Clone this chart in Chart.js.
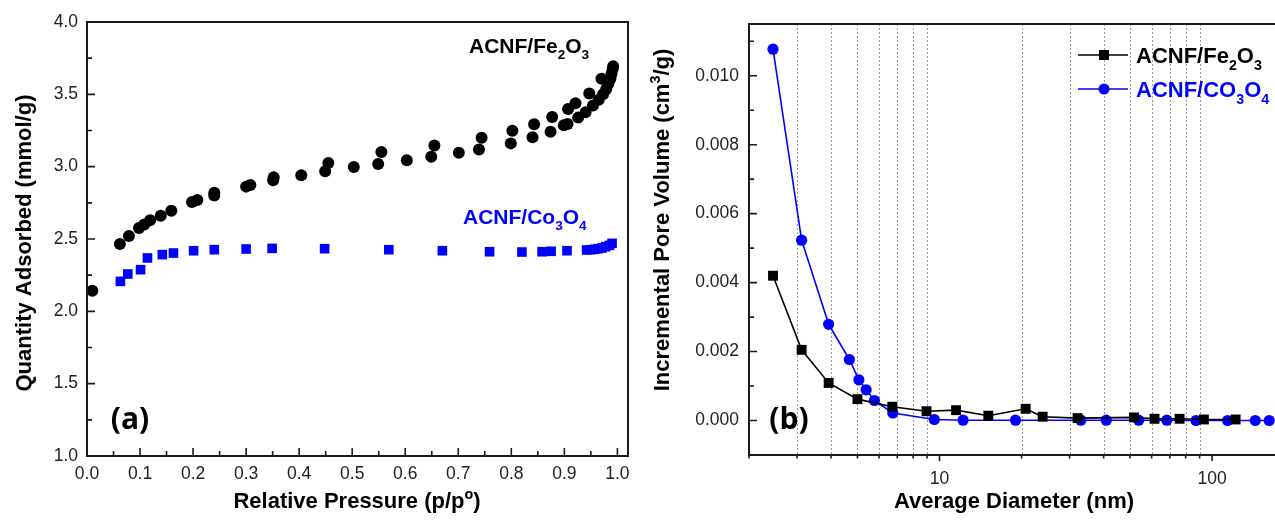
<!DOCTYPE html>
<html>
<head>
<meta charset="utf-8">
<script src="https://cdn.jsdelivr.net/npm/chart.js@4.4.1/dist/chart.umd.min.js"></script>
<style>
  html, body { margin: 0; padding: 0; background: #fff; overflow: hidden; }
  #wrap { position: relative; width: 1275px; height: 525px; overflow: hidden; }
  #isotherm { position: absolute; left: 0; top: 0; }
  #poreDist { position: absolute; left: 640px; top: 0; }
</style>
</head>
<body>
<div id="wrap">
  <canvas id="isotherm" width="640" height="525"></canvas>
  <canvas id="poreDist" width="648" height="525"></canvas>
</div>
<script>
// (a) N2 adsorption-desorption isotherms
const feP = [0.010, 0.062, 0.079, 0.098, 0.108, 0.119, 0.139, 0.159, 0.198, 0.208, 0.240, 0.240,
  0.300, 0.308, 0.351, 0.352, 0.404, 0.449, 0.455, 0.503, 0.549, 0.555, 0.603, 0.649, 0.655,
  0.701, 0.739, 0.744, 0.799, 0.802, 0.840, 0.843, 0.874, 0.877, 0.899, 0.906, 0.907, 0.921,
  0.926, 0.940, 0.947, 0.954, 0.965, 0.970, 0.973, 0.979, 0.983, 0.987, 0.989, 0.991, 0.992];
const feQ = [2.143, 2.465, 2.520, 2.576, 2.600, 2.630, 2.660, 2.696, 2.756, 2.770, 2.820, 2.800,
  2.862, 2.873, 2.906, 2.926, 2.940, 2.968, 3.025, 2.998, 3.018, 3.101, 3.044, 3.069, 3.147,
  3.097, 3.118, 3.200, 3.161, 3.249, 3.203, 3.293, 3.242, 3.343, 3.286, 3.295, 3.399, 3.438,
  3.339, 3.376, 3.505, 3.422, 3.463, 3.608, 3.500, 3.537, 3.574, 3.610, 3.643, 3.675, 3.694];
const coP = [0.063, 0.077, 0.101, 0.114, 0.142, 0.163, 0.201, 0.240, 0.300, 0.349, 0.448, 0.569,
  0.670, 0.759, 0.820, 0.858, 0.875, 0.905, 0.942, 0.950, 0.957, 0.964, 0.971, 0.978, 0.985, 0.990];
const coQ = [2.207, 2.258, 2.288, 2.369, 2.392, 2.403, 2.419, 2.426, 2.431, 2.435, 2.433, 2.426,
  2.419, 2.412, 2.410, 2.412, 2.415, 2.419, 2.424, 2.426, 2.429, 2.433, 2.438, 2.447, 2.456, 2.470];

const isoXTicks = [0.0, 0.1, 0.2, 0.3, 0.4, 0.5, 0.6, 0.7, 0.8, 0.9, 1.0];
const isoXMinor = [0.05, 0.15, 0.25, 0.35, 0.45, 0.55, 0.65, 0.75, 0.85, 0.95];
const isoYTicks = [1.0, 1.5, 2.0, 2.5, 3.0, 3.5, 4.0];
const isoYMinor = [1.25, 1.75, 2.25, 2.75, 3.25, 3.75];

// (b) BJH pore size distribution
const feD = [2.45, 3.12, 3.92, 5.00, 6.71, 8.96, 11.5, 15.1, 20.7, 23.9, 32.1, 51.7, 61.5, 76.0, 93.3, 122];
const feV = [0.00420, 0.00205, 0.00109, 0.00062, 0.00040, 0.00027, 0.00030, 0.00014, 0.00034,
  0.00011, 0.00007, 0.00009, 0.00005, 0.00005, 0.00003, 0.00003];
const coD = [2.45, 3.12, 3.92, 4.67, 5.06, 5.38, 5.77, 6.74, 9.57, 12.2, 19.0, 33.0, 40.9, 53.8,
  68.2, 87.3, 114, 144, 162];
const coV = [0.01077, 0.00523, 0.00279, 0.00177, 0.00118, 0.00089, 0.00058, 0.00022, 0.00003,
  0.00001, 0.00001, 0.00001, 0.00001, 0.00001, 0.00001, 0.0, 0.0, 0.0, 0.0];

const poreXTicks = [10, 100];
const poreXMinor = [3, 4, 5, 6, 7, 8, 9, 20, 30, 40, 50, 60, 70, 80, 90];
const poreYTicks = [0.000, 0.002, 0.004, 0.006, 0.008, 0.010];
const poreYMinor = [-0.001, 0.001, 0.003, 0.005, 0.007, 0.009, 0.011];

const pts = (xs, ys) => xs.map((x, i) => ({ x: x, y: ys[i] }));

const SANS = '"Liberation Sans", Arial, sans-serif';
const tickFont = { family: SANS, size: 17.5 };

// bold text with sub/superscripts: parts = [[text, k]], k: 0 normal, 1 sub, -1 sup
function richText(ctx, parts, x, y, size, color, align) {
  const fontFor = s => 'bold ' + s + 'px ' + SANS;
  let w = 0;
  parts.forEach(([t, k]) => {
    ctx.font = fontFor(k ? size * 0.65 : size);
    w += ctx.measureText(t).width;
  });
  let cx = align === 'center' ? x - w / 2 : x;
  ctx.fillStyle = color;
  ctx.textAlign = 'left';
  ctx.textBaseline = 'alphabetic';
  parts.forEach(([t, k]) => {
    ctx.font = fontFor(k ? size * 0.65 : size);
    const dy = k === 1 ? size * 0.3 : (k === -1 ? -size * 0.42 : 0);
    ctx.fillText(t, cx, y + dy);
    cx += ctx.measureText(t).width;
  });
}

function rotatedText(ctx, parts, x, y, size) {
  ctx.save();
  ctx.translate(x, y);
  ctx.rotate(-Math.PI / 2);
  richText(ctx, parts, 0, 0, size, '#000', 'center');
  ctx.restore();
}

function tickMarks(ctx, chart, axis, values, len, inward) {
  const a = chart.chartArea;
  const s = chart.scales[axis];
  ctx.beginPath();
  values.forEach(v => {
    const p = s.getPixelForValue(v);
    if (axis === 'x') {
      ctx.moveTo(p, a.bottom);
      ctx.lineTo(p, inward ? a.bottom - len : a.bottom + len);
    } else {
      ctx.moveTo(a.left, p);
      ctx.lineTo(inward ? a.left + len : a.left - len, p);
    }
  });
  ctx.stroke();
}

// frame, ticks and text for each panel
const framePlugin = {
  id: 'frame',
  beforeDatasetsDraw(chart, args, opts) {
    const ctx = chart.ctx, a = chart.chartArea;
    if (opts.gridX) {
      ctx.save();
      ctx.strokeStyle = '#9a9a9a';
      ctx.lineWidth = 1;
      ctx.setLineDash([2, 2]);
      ctx.beginPath();
      opts.gridX.forEach(v => {
        const p = Math.round(chart.scales.x.getPixelForValue(v)) + 0.5;
        ctx.moveTo(p, a.top);
        ctx.lineTo(p, a.bottom);
      });
      ctx.stroke();
      ctx.restore();
    }
  },
  afterDraw(chart, args, opts) {
    const ctx = chart.ctx, a = chart.chartArea;
    ctx.save();
    ctx.strokeStyle = '#1a1a1a';
    ctx.lineWidth = 2;
    ctx.strokeRect(a.left, a.top, a.right - a.left, a.bottom - a.top);
    ctx.lineWidth = 1.6;
    tickMarks(ctx, chart, 'x', opts.xMajor, opts.xIn ? 8 : 6, opts.xIn);
    tickMarks(ctx, chart, 'x', opts.xMinor, opts.xIn ? 5 : 3.5, opts.xIn);
    tickMarks(ctx, chart, 'y', opts.yMajor, 8, true);
    tickMarks(ctx, chart, 'y', opts.yMinor, 5, true);
    opts.texts.forEach(t => {
      if (t.rotate) rotatedText(ctx, t.parts, t.x, t.y, t.size);
      else if (t.plain) {
        ctx.font = t.font;
        ctx.fillStyle = t.color;
        ctx.textAlign = 'center';
        ctx.textBaseline = 'alphabetic';
        ctx.fillText(t.plain, t.x, t.y);
      } else richText(ctx, t.parts, t.x, t.y, t.size, t.color, t.align);
    });
    if (opts.legend) {
      opts.legend.forEach(l => {
        ctx.strokeStyle = l.color;
        ctx.lineWidth = 1.6;
        ctx.beginPath();
        ctx.moveTo(l.x, l.y);
        ctx.lineTo(l.x + 50, l.y);
        ctx.stroke();
        ctx.fillStyle = l.color;
        if (l.style === 'rect') ctx.fillRect(l.x + 26 - 5, l.y - 5, 10, 10);
        else { ctx.beginPath(); ctx.arc(l.x + 26, l.y, 5.5, 0, Math.PI * 2); ctx.fill(); }
        richText(ctx, l.parts, l.x + 58, l.y + 8, 22, l.color, 'left');
      });
    }
    ctx.restore();
  }
};

const fixTicks = list => scale => { scale.ticks = list.map(v => ({ value: v })); };

new Chart(document.getElementById('isotherm'), {
  type: 'scatter',
  data: {
    datasets: [
      { data: pts(feP, feQ), pointStyle: 'circle', pointRadius: 6, backgroundColor: '#000',
        borderWidth: 0, clip: false },
      { data: pts(coP, coQ), pointStyle: 'rect', pointRadius: 6.8, backgroundColor: '#0000ff',
        borderWidth: 0, clip: false }
    ]
  },
  options: {
    responsive: false,
    animation: false,
    layout: { padding: { left: 0, right: 12, top: 22, bottom: 0 } },
    scales: {
      x: {
        type: 'linear', min: 0, max: 1.02,
        afterBuildTicks: fixTicks(isoXTicks),
        afterFit: s => { s.height = 69; },
        grid: { display: false, drawTicks: false },
        border: { display: false },
        ticks: { font: tickFont, color: '#222', padding: 8, maxRotation: 0, autoSkip: false,
          callback: v => v.toFixed(1) }
      },
      y: {
        min: 1, max: 4,
        afterBuildTicks: fixTicks(isoYTicks),
        afterFit: s => { s.width = 87; },
        grid: { display: false, drawTicks: false },
        border: { display: false },
        ticks: { font: tickFont, color: '#222', padding: 9, autoSkip: false,
          callback: v => v.toFixed(1) }
      }
    },
    plugins: {
      legend: { display: false },
      tooltip: { enabled: false },
      frame: {
        xMajor: isoXTicks, xMinor: isoXMinor, yMajor: isoYTicks, yMinor: isoYMinor, xIn: true,
        texts: [
          { rotate: true, parts: [['Quantity Adsorbed (mmol/g)', 0]], x: 31, y: 243, size: 22 },
          { parts: [['Relative Pressure (p/p', 0], ['o', -1], [')', 0]], x: 357, y: 508, size: 22,
            color: '#000', align: 'center' },
          { parts: [['ACNF/Fe', 0], ['2', 1], ['O', 0], ['3', 1]], x: 469, y: 53, size: 21,
            color: '#000', align: 'left' },
          { parts: [['ACNF/Co', 0], ['3', 1], ['O', 0], ['4', 1]], x: 463, y: 224, size: 21,
            color: '#0000ff', align: 'left' },
          { plain: '(a)', font: 'bold 30px "Open Sans", sans-serif', color: '#000', x: 130, y: 429 }
        ]
      }
    }
  },
  plugins: [framePlugin]
});

// right edge of this panel runs past the page edge, so no right border shows
new Chart(document.getElementById('poreDist'), {
  type: 'scatter',
  data: {
    datasets: [
      { data: pts(feD, feV), showLine: true, borderColor: '#000', borderWidth: 1.6,
        pointStyle: 'rect', pointRadius: 7, pointBackgroundColor: '#000', pointBorderWidth: 0,
        clip: false },
      { data: pts(coD, coV), showLine: true, borderColor: '#0000ff', borderWidth: 1.6,
        pointStyle: 'circle', pointRadius: 5.6, pointBackgroundColor: '#0000ff', pointBorderWidth: 0,
        clip: false }
    ]
  },
  options: {
    responsive: false,
    animation: false,
    layout: { padding: { left: 0, right: 0, top: 24, bottom: 0 } },
    scales: {
      x: {
        type: 'logarithmic', min: 2, max: 179,
        afterBuildTicks: fixTicks(poreXTicks),
        afterFit: s => { s.height = 70; },
        grid: { display: false, drawTicks: false },
        border: { display: false },
        ticks: { font: tickFont, color: '#222', padding: 14, maxRotation: 0, autoSkip: false,
          callback: v => String(v) }
      },
      y: {
        min: -0.001, max: 0.0115,
        afterBuildTicks: fixTicks(poreYTicks),
        afterFit: s => { s.width = 109; },
        grid: { display: false, drawTicks: false },
        border: { display: false },
        ticks: { font: tickFont, color: '#222', padding: 10, autoSkip: false,
          callback: v => v.toFixed(3) }
      }
    },
    plugins: {
      legend: { display: false },
      tooltip: { enabled: false },
      frame: {
        gridX: poreXMinor,
        xMajor: poreXTicks, xMinor: poreXMinor.concat([2]), yMajor: poreYTicks, yMinor: poreYMinor,
        xIn: false,
        texts: [
          { rotate: true, parts: [['Incremental Pore Volume (cm', 0], ['3', -1], ['/g)', 0]],
            x: 29, y: 220, size: 22 },
          { parts: [['Average Diameter (nm)', 0]], x: 374, y: 508, size: 22, color: '#000',
            align: 'center' },
          { plain: '(b)', font: 'bold 30px "Open Sans", sans-serif', color: '#000', x: 149, y: 429 }
        ],
        legend: [
          { x: 438, y: 55, color: '#000', style: 'rect',
            parts: [['ACNF/Fe', 0], ['2', 1], ['O', 0], ['3', 1]] },
          { x: 438, y: 89, color: '#0000ff', style: 'circle',
            parts: [['ACNF/CO', 0], ['3', 1], ['O', 0], ['4', 1]] }
        ]
      }
    }
  },
  plugins: [framePlugin]
});
</script>
</body>
</html>
